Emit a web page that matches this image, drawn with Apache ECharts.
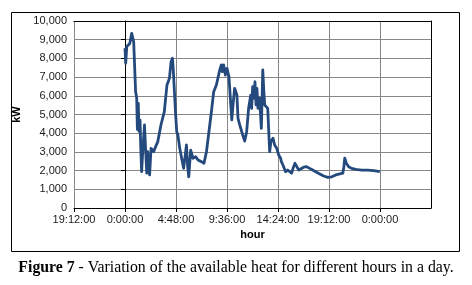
<!DOCTYPE html>
<html>
<head>
<meta charset="utf-8">
<script src="https://cdn.jsdelivr.net/npm/echarts@6/dist/echarts.min.js"></script>
<style>
  html, body { margin: 0; padding: 0; background: #fff; }
  #chart { width: 472px; height: 285px; }
</style>
</head>
<body>
<div id="chart"></div>
<script>
// minutes from midnight of day 1 (negative = previous evening)
var timeMin = [0, 4, 10, 27, 38, 49, 60, 66, 70, 75, 79, 85, 89, 94, 100, 110, 117, 123, 128, 134,
  139, 147, 162, 169, 185, 203, 222, 237, 251, 260, 268, 272, 285, 292, 299, 309, 320, 331, 340, 347,
  354, 360, 371, 384, 399, 412, 431, 446, 460, 474, 488, 501, 516, 525, 535, 544, 550, 557, 567, 576,
  587, 591, 603, 610, 619, 632, 638, 648, 665, 676, 687, 698, 704, 710, 715, 721, 728, 734, 740, 745,
  751, 760, 770, 778, 784, 789, 798, 806, 813, 817, 824, 836, 845, 857, 868, 879, 883, 892, 907, 919,
  930, 941, 949, 960, 971, 981, 992, 1009, 1026, 1043, 1060, 1077, 1100, 1122, 1145, 1156, 1168, 1190, 1213, 1230,
  1236, 1241, 1250, 1263, 1280, 1303, 1337, 1371, 1405, 1439];
// available heat, kW
var heatKW = [8540, 7740, 8630, 8800, 9340, 8890, 6220, 5880, 4200, 5600, 4100, 4700, 3200, 1940, 3000, 4440, 3000, 1860, 3010, 2200,
  1770, 3190, 3010, 3190, 3550, 4440, 5150, 6580, 6940, 7820, 8010, 7500, 5150, 4080, 3900, 3190, 2660, 2120, 2800, 3370,
  2200, 1670, 3100, 2660, 2740, 2570, 2480, 2390, 3010, 4080, 5150, 6220, 6580, 6670, 7380, 7650, 7290, 7650, 7110, 7470,
  7020, 6940, 4710, 5510, 6400, 6040, 4800, 4440, 3900, 3580, 4080, 5330, 5690, 6040, 5330, 6490, 5870, 6750, 5510, 6400,
  5330, 5870, 4260, 7380, 6220, 5510, 5600, 5330, 3810, 3010, 3550, 3730, 3370, 3190, 2830, 2660, 2480, 2300, 1940, 2030,
  1940, 1860, 2120, 2390, 2300, 2030, 2120, 2180, 2210, 2120, 2030, 1940, 1820, 1710, 1640, 1590, 1670, 1770, 1820, 1860,
  2210, 2660, 2390, 2210, 2120, 2070, 2030, 2030, 2000, 1940];

var xMin = -288, xMax = 1728, xStep = 288;   // 19:12:00 .. 4:48:00, 4.8 h steps
var yMin = 0, yMax = 10000, yStep = 1000;

function clock(v) {
  var m = ((Math.round(v) % 1440) + 1440) % 1440;
  var h = Math.floor(m / 60), mm = m % 60;
  return h + ':' + (mm < 10 ? '0' : '') + mm + ':00';
}

var chart = echarts.init(document.getElementById('chart'));
var labelFont = { fontFamily: 'Liberation Sans', fontSize: 11, color: '#1a1a1a' };

chart.setOption({
  backgroundColor: '#fff',
  animation: false,
  grid: { left: 74, top: 21, right: 41, bottom: 77 },
  graphic: [
    {
      type: 'rect',
      shape: { x: 11.5, y: 12.5, width: 448, height: 239 },
      style: { fill: 'none', stroke: '#000', lineWidth: 1 },
      silent: true
    },
    {
      type: 'text',
      left: 'center',
      top: 260,
      style: {
        rich: {
          b: { fontFamily: 'Liberation Serif', fontSize: 15.8, fontWeight: 'bold', fill: '#000' },
          n: { fontFamily: 'Liberation Serif', fontSize: 15.8, fill: '#000' }
        },
        text: '{b|Figure 7}{n| - Variation of the available heat for different hours in a day.}'
      }
    }
  ],
  xAxis: [
    {
      type: 'value',
      min: xMin, max: xMax, interval: xStep,
      name: 'hour',
      nameLocation: 'middle',
      nameGap: 20,
      nameTextStyle: { fontFamily: 'Liberation Sans', fontSize: 11, fontWeight: 'bold', color: '#000' },
      axisLine: { show: true, lineStyle: { color: '#000', width: 1 } },
      axisTick: { show: true, length: 4, lineStyle: { color: '#000' } },
      axisLabel: Object.assign({ margin: 6, showMaxLabel: false, formatter: clock }, labelFont),
      splitLine: { show: true, lineStyle: { color: '#878787', width: 1 } }
    },
    {
      type: 'value', position: 'top',
      min: xMin, max: xMax, interval: xStep,
      axisLine: { show: true, onZero: false, lineStyle: { color: '#000', width: 1 } },
      axisTick: { show: false }, axisLabel: { show: false }, splitLine: { show: false }
    }
  ],
  yAxis: [
    {
      type: 'value',
      min: yMin, max: yMax, interval: yStep,
      name: 'kW',
      nameLocation: 'middle',
      nameGap: 44,
      nameTextStyle: { fontFamily: 'Liberation Sans', fontSize: 11, fontWeight: 'bold', color: '#000' },
      axisLine: { show: true, lineStyle: { color: '#000', width: 1 } },
      axisTick: { show: true, length: 4, lineStyle: { color: '#000' } },
      axisLabel: Object.assign({ margin: 7, formatter: function (v) { return v.toLocaleString('en-US'); } }, labelFont),
      splitLine: { show: true, lineStyle: { color: '#878787', width: 1 } }
    },
    {
      type: 'value', position: 'right',
      min: yMin, max: yMax, interval: yStep,
      axisLine: { show: true, onZero: false, lineStyle: { color: '#000', width: 1 } },
      axisTick: { show: false }, axisLabel: { show: false }, splitLine: { show: false }
    }
  ],
  series: [
    {
      type: 'line',
      xAxisIndex: 0,
      yAxisIndex: 0,
      showSymbol: false,
      lineStyle: { color: '#24497d', width: 2.8, join: 'round' },
      data: timeMin.map(function (t, i) { return [t, heatKW[i]]; })
    }
  ]
});
</script>
</body>
</html>
